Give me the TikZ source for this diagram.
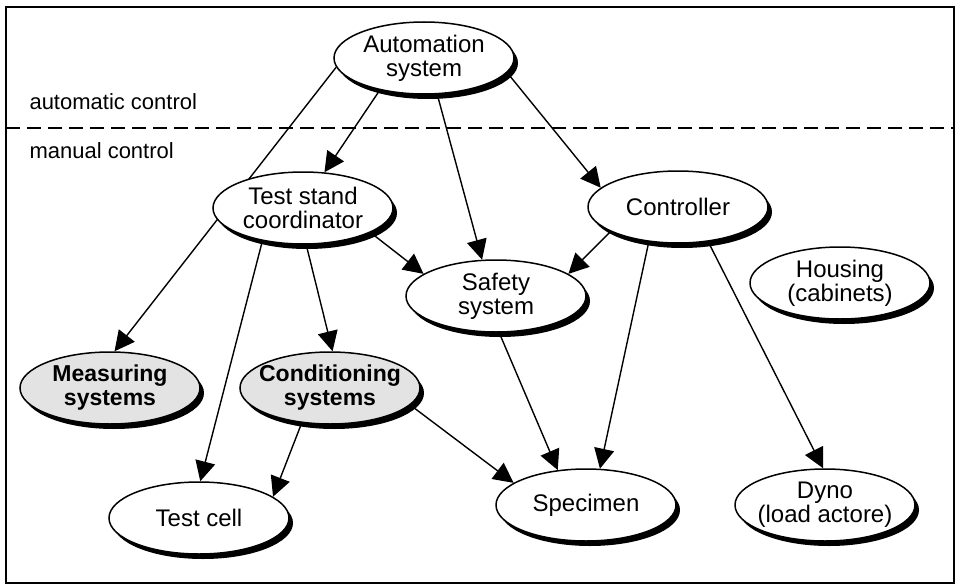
\documentclass[tikz,border=0pt]{standalone}
\usepackage{fontspec}
\setmainfont{Liberation Sans}
\usetikzlibrary{shapes.geometric,shadows,arrows.meta,backgrounds}

\begin{document}
\begin{tikzpicture}[x=1pt, y=-1pt,
    unit/.style={draw, ellipse, line width=1.5pt, fill=white,
        minimum width=180pt, minimum height=72pt, inner xsep=-12pt, inner ysep=0pt,
        align=center, font=\fontsize{24}{24}\selectfont,
        drop shadow={shadow xshift=4pt, shadow yshift=-5pt, fill=black, opacity=1}},
    greyunit/.style={unit, fill=gray!22, font=\fontsize{23}{24}\selectfont\bfseries},
    link/.style={line width=1.4pt, -{Triangle[length=20pt,width=20pt]}},
    zone/.style={anchor=base west, font=\fontsize{22}{22}\selectfont}]
\useasboundingbox (0,0) rectangle (958,586);
\draw[line width=1.5pt] (6,7) rectangle (954,583);
\draw[line width=1.2pt, dash pattern=on 14pt off 7pt] (6,128) -- (954,128);
\node[zone] (autoctl) at (26,109) {automatic control};
\node[zone] (manctl) at (26,158) {manual control};

\node[unit] (auto) at (424,58) {Automation\\system};
\node[unit] (coord) at (303,208) {Test stand\\coordinator};
\node[unit] (ctrl) at (678,207) {Controller};
\node[unit] (safety) at (496,296) {Safety\\system};
\node[unit] (housing) at (840,283) {Housing\\(cabinets)};
\node[greyunit] (measure) at (110,388) {Measuring\\systems};
\node[greyunit] (cond) at (330,388) {Conditioning\\systems};
\node[unit] (cell) at (199,518) {Test cell};
\node[unit] (specimen) at (586,505) {Specimen};
\node[unit] (dyno) at (825,505) {Dyno\\(load actore)};

\begin{scope}[on background layer]
\draw[link] (auto.186) -- (measure.83);
\draw[link] (auto.216) -- (coord.59);
\draw[link] (auto.290) -- (safety.111);
\draw[link] (auto.350) -- (ctrl.166);
\draw[link] (coord.219) -- (cell.88);
\draw[link] (coord.275) -- (cond.86);
\draw[link] (coord.340) -- (safety.163);
\draw[link] (ctrl.200) -- (safety.17);
\draw[link] (ctrl.230) -- (specimen.69);
\draw[link] (ctrl.311) -- (dyno.93);
\draw[link] (safety.275) -- (specimen.129);
\draw[link] (cond.348) -- (specimen.163);
\draw[link] (cond.231) -- (cell.16);
\end{scope}
\end{tikzpicture}
\end{document}
